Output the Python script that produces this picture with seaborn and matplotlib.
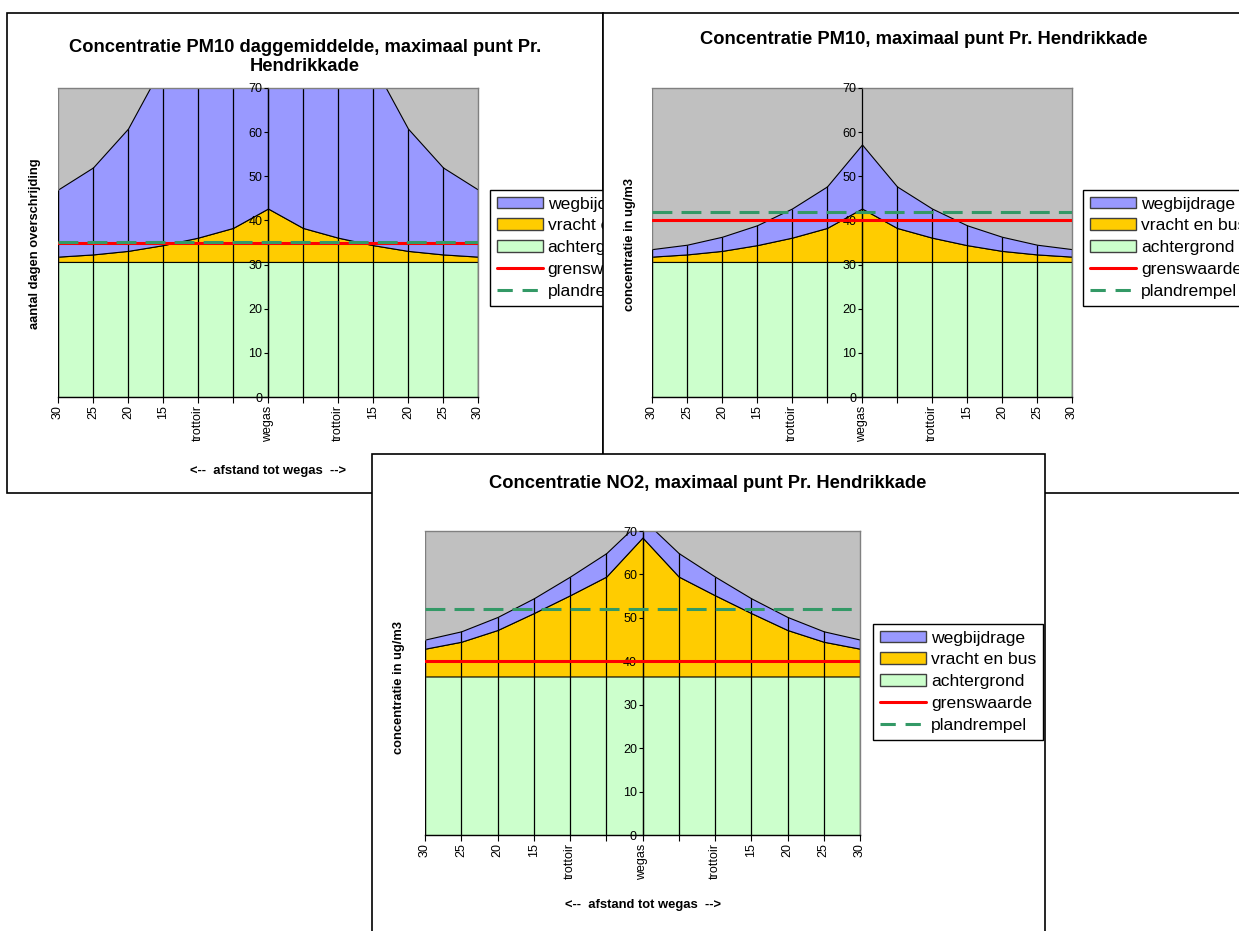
import numpy as np
import matplotlib
matplotlib.use("Agg")
import matplotlib.pyplot as plt
from matplotlib.patches import Rectangle, Patch
from matplotlib.lines import Line2D
import seaborn as sns

sns.set_theme(style="white")
plt.rcParams["font.family"] = ["Liberation Sans", "DejaVu Sans"]
plt.rcParams["text.color"] = "black"
plt.rcParams["xtick.color"] = "black"
plt.rcParams["ytick.color"] = "black"

W, H = 1239, 931

# categories along the street profile (left pavement -> road axis -> right pavement)
x_labels = ["30", "25", "20", "15", "trottoir", "", "wegas", "", "trottoir", "15", "20", "25", "30"]
series_names = ["wegbijdrage", "vracht en bus", "achtergrond", "grenswaarde", "plandrempel"]

# PM10 daily mean: number of exceedance days
dagen_achtergrond = [30.6, 30.6, 30.6, 30.6, 30.6, 30.6, 30.6, 30.6, 30.6, 30.6, 30.6, 30.6, 30.6]
dagen_vracht = [1.2, 1.7, 2.5, 3.8, 5.5, 7.7, 12.1, 7.7, 5.5, 3.8, 2.5, 1.7, 1.2]
dagen_weg = [15.2, 19.7, 27.7, 41.0, 55.0, 70.0, 85.0, 70.0, 55.0, 41.0, 27.7, 19.7, 15.2]
dagen_grens = 35
dagen_plan = 35.2

# PM10 annual mean concentration
pm10_achtergrond = [30.6, 30.6, 30.6, 30.6, 30.6, 30.6, 30.6, 30.6, 30.6, 30.6, 30.6, 30.6, 30.6]
pm10_vracht = [1.2, 1.7, 2.5, 3.8, 5.5, 7.7, 12.1, 7.7, 5.5, 3.8, 2.5, 1.7, 1.2]
pm10_weg = [1.7, 2.2, 3.2, 4.5, 6.6, 9.4, 14.5, 9.4, 6.6, 4.5, 3.2, 2.2, 1.7]
pm10_grens = 40
pm10_plan = 42

# NO2 annual mean concentration
no2_achtergrond = [36.5, 36.5, 36.5, 36.5, 36.5, 36.5, 36.5, 36.5, 36.5, 36.5, 36.5, 36.5, 36.5]
no2_vracht = [6.4, 8.0, 10.7, 14.6, 18.7, 23.0, 32.0, 23.0, 18.7, 14.6, 10.7, 8.0, 6.4]
no2_weg = [2.1, 2.4, 3.0, 3.4, 4.3, 5.4, 4.3, 5.4, 4.3, 3.4, 3.0, 2.4, 2.1]
no2_grens = 40
no2_plan = 52

C_GREEN = "#CCFFCC"
C_GOLD = "#FFCC00"
C_BLUE = "#9999FF"
C_GRAY = "#C0C0C0"
C_RED = "#FF0000"
C_DASH = "#339966"
DASHES = (6.5, 3)


def fx(x):
    return x / W


def fy(y):
    return 1 - y / H


def draw_panel(fig, z, box, plot, title, title_xy, ylabel, ylabel_xy, xlabel_xy,
               legend_xy, achter, vracht, weg, grens, plan):
    # chart area (white box with black border)
    x0, y0, x1, y1 = box
    fig.patches.append(Rectangle((fx(x0), fy(y1)), fx(x1 - x0), (y1 - y0) / H,
                                 transform=fig.transFigure, facecolor="white",
                                 edgecolor="black", linewidth=1.2, zorder=z))
    fig.text(fx(title_xy[0]), fy(title_xy[1]), title, ha="center", va="center",
             fontsize=13.2, fontweight="bold", linespacing=1.15, zorder=z + 2)
    fig.text(fx(ylabel_xy[0]), fy(ylabel_xy[1]), ylabel, ha="center", va="center",
             rotation=90, fontsize=9.3, fontweight="bold", zorder=z + 2)
    fig.text(fx(xlabel_xy[0]), fy(xlabel_xy[1]), "<--  afstand tot wegas  -->",
             ha="center", va="center", fontsize=9.4, fontweight="bold", zorder=z + 2)

    px0, py0, px1, py1 = plot
    ax = fig.add_axes([fx(px0), fy(py1), fx(px1 - px0), (py1 - py0) / H])
    ax.set_zorder(z + 1)
    ax.set_facecolor(C_GRAY)
    ax.set_axisbelow(False)

    pos = np.arange(len(x_labels))
    polys = ax.stackplot(pos, achter, vracht, weg, colors=[C_GREEN, C_GOLD, C_BLUE],
                         linewidth=0.8)
    polys[0].set_edgecolor("#5a5a30")
    polys[1].set_edgecolor("black")
    polys[2].set_edgecolor("black")

    total = np.array(achter) + np.array(vracht) + np.array(weg)
    ax.vlines(pos, 0, np.minimum(total, 70), color="black", linewidth=0.9, zorder=2)

    sns.lineplot(x=pos, y=np.full(len(pos), grens), color=C_RED, linewidth=2.2,
                 ax=ax, zorder=3)
    sns.lineplot(x=pos, y=np.full(len(pos), plan), color=C_DASH, linewidth=2.2,
                 ax=ax, zorder=4).lines[-1].set_dashes(DASHES)

    ax.set_xlim(0, len(pos) - 1)
    ax.set_ylim(0, 70)
    ax.set_xticks(pos)
    ax.set_xticklabels(x_labels, rotation=90, fontsize=9)
    ax.set_yticks(range(0, 71, 10))
    ax.tick_params(axis="y", labelsize=9, length=3, width=0.8, pad=1,
                   direction="out", left=True, colors="black")
    ax.tick_params(axis="x", length=4, width=0.8, pad=2, direction="out",
                   bottom=True, colors="black")

    ax.spines["left"].set_position(("data", 6))
    ax.spines["left"].set_color("black")
    ax.spines["left"].set_linewidth(0.9)
    ax.spines["bottom"].set_color("black")
    ax.spines["bottom"].set_linewidth(1)
    for s in ["top", "right"]:
        ax.spines[s].set_color("#808080")
        ax.spines[s].set_linewidth(1)
    ax.axvline(0, color="#808080", linewidth=1, zorder=1.5)
    ax.set_xlabel("")
    ax.set_ylabel("")

    handles = [
        Patch(facecolor=C_BLUE, edgecolor="#404040", linewidth=1),
        Patch(facecolor=C_GOLD, edgecolor="#404040", linewidth=1),
        Patch(facecolor=C_GREEN, edgecolor="#404040", linewidth=1),
        Line2D([], [], color=C_RED, linewidth=2.2),
        Line2D([], [], color=C_DASH, linewidth=2.2, dashes=(5, 3.2)),
    ]
    leg = ax.legend(handles, series_names, loc="upper left",
                    bbox_to_anchor=(fx(legend_xy[0]), fy(legend_xy[1])),
                    bbox_transform=fig.transFigure, borderaxespad=0,
                    fontsize=12.6, frameon=True, fancybox=False, shadow=False,
                    handlelength=2.65, handleheight=0.65, handletextpad=0.27,
                    labelspacing=0.39, borderpad=0.38)
    leg.get_frame().set_edgecolor("black")
    leg.get_frame().set_linewidth(1)
    leg.get_frame().set_facecolor("white")
    leg.get_frame().set_alpha(1)
    return ax


fig = plt.figure(figsize=(W / 100, H / 100), dpi=100)

draw_panel(fig, 10, (7, 13, 603, 493), (58, 88, 478, 397),
           "Concentratie PM10 daggemiddelde, maximaal punt Pr.\nHendrikkade", (305, 57),
           "aantal dagen overschrijding", (35, 244), (268, 471), (490, 190),
           dagen_achtergrond, dagen_vracht, dagen_weg, dagen_grens, dagen_plan)

draw_panel(fig, 20, (603, 13, 1250, 493), (652, 88, 1072, 397),
           "Concentratie PM10, maximaal punt Pr. Hendrikkade", (924, 40),
           "concentratie in ug/m3", (630, 244), (862, 471), (1083, 190),
           pm10_achtergrond, pm10_vracht, pm10_weg, pm10_grens, pm10_plan)

draw_panel(fig, 30, (372, 454, 1045, 945), (425, 531, 860, 835),
           "Concentratie NO2, maximaal punt Pr. Hendrikkade", (708, 483),
           "concentratie in ug/m3", (399, 688), (643, 905), (873, 624),
           no2_achtergrond, no2_vracht, no2_weg, no2_grens, no2_plan)

fig.savefig("out.png", dpi=100)
